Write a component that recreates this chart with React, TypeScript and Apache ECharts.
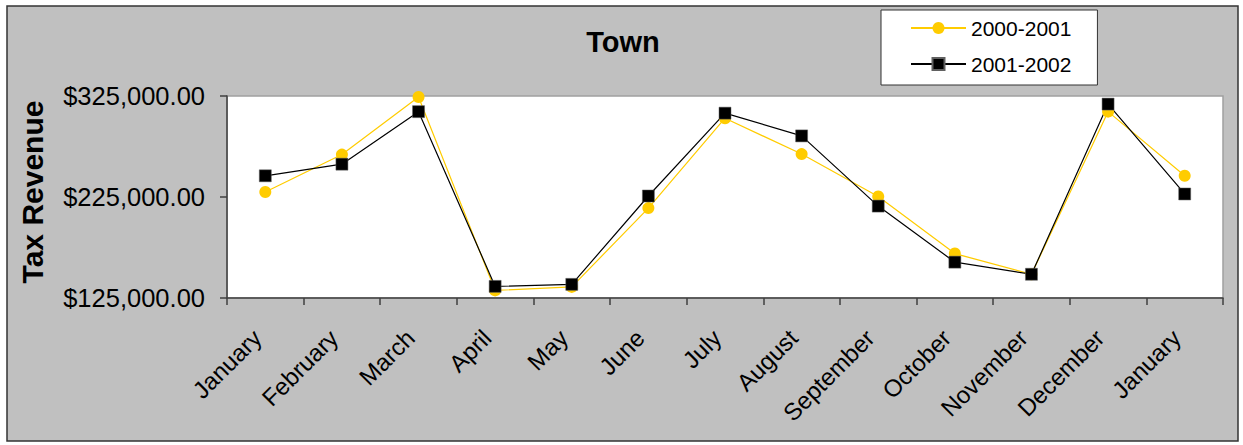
import React, { useEffect, useRef } from "react";
import * as echarts from "echarts";

const months = [
  "January", "February", "March", "April", "May", "June", "July",
  "August", "September", "October", "November", "December", "January",
];
const series2000 = [230000, 267000, 324000, 132500, 136000, 214000, 303000, 267500, 225500, 169000, 148500, 309500, 246000];
const series2001 = [246000, 257500, 309500, 136500, 138500, 226000, 308000, 285500, 216000, 160500, 148500, 317000, 228000];
const seriesNames = ["2000-2001", "2001-2002"];
const yTicks = [125000, 225000, 325000];

const FONT = "'Liberation Sans', Arial, sans-serif";

function fmtMoney(v: number): string {
  return "$" + v.toLocaleString("en-US", { minimumFractionDigits: 2, maximumFractionDigits: 2 });
}

export default function App() {
  const ref = useRef<HTMLDivElement>(null);
  useEffect(() => {
    if (!ref.current) return;
    const chart = echarts.init(ref.current, null, { renderer: "svg" });
    chart.setOption({
      animation: false,
      backgroundColor: "#ffffff",
      textStyle: { fontFamily: FONT },
      graphic: [
        {
          type: "rect",
          z: -10,
          shape: { x: 7, y: 6, width: 1231, height: 435 },
          style: { fill: "#c0c0c0", stroke: "#333333", lineWidth: 1.5 },
        },
      ],
      title: {
        text: "Town",
        left: 618,
        textAlign: "center",
        top: 22,
        textStyle: { fontFamily: FONT, fontSize: 29, fontWeight: "bold", color: "#000" },
      },
      legend: {
        orient: "vertical",
        left: 881,
        top: 10,
        padding: [7, 26, 10, 29],
        backgroundColor: "#ffffff",
        borderColor: "#333333",
        borderWidth: 1,
        itemWidth: 55,
        itemHeight: 15,
        itemGap: 14,
        textStyle: { fontFamily: FONT, fontSize: 21, color: "#000", lineHeight: 22 },
        data: seriesNames,
      },
      grid: {
        left: 227,
        right: 20,
        top: 96,
        bottom: 147,
        show: true,
        backgroundColor: "#ffffff",
        borderColor: "#a0a0a0",
        borderWidth: 1.5,
        outerBoundsMode: "none",
      },
      xAxis: {
        type: "category",
        data: months,
        boundaryGap: true,
        axisLine: { lineStyle: { color: "#404040", width: 1.5 } },
        axisTick: { show: true, length: 7, lineStyle: { color: "#404040", width: 1.5 } },
        axisLabel: {
          rotate: 45,
          interval: 0,
          margin: 44,
          verticalAlign: "bottom",
          lineHeight: 23,
          fontFamily: FONT,
          fontSize: 24,
          color: "#000",
        },
      },
      yAxis: {
        type: "value",
        min: 125000,
        max: 325000,
        name: "Tax Revenue",
        nameLocation: "middle",
        nameRotate: 90,
        nameGap: 180,
        nameTextStyle: {
          fontFamily: FONT,
          fontSize: 30,
          fontWeight: "bold",
          color: "#000",
          padding: [0, 0, 0, 10],
        },
        splitLine: { show: false },
        axisLine: { show: true, lineStyle: { color: "#404040", width: 1.5 } },
        axisTick: { show: true, length: 7, customValues: yTicks, lineStyle: { color: "#404040", width: 1.5 } },
        axisLabel: {
          customValues: yTicks,
          margin: 22,
          fontFamily: FONT,
          fontSize: 25.5,
          color: "#000",
          formatter: (v: number) => fmtMoney(v),
        },
      },
      series: [
        {
          name: seriesNames[0],
          type: "line",
          data: series2000,
          symbol: "circle",
          symbolSize: 12,
          color: "#ffcc00",
          lineStyle: { color: "#ffcc00", width: 1.2 },
          itemStyle: { color: "#ffcc00" },
        },
        {
          name: seriesNames[1],
          type: "line",
          data: series2001,
          symbol: "rect",
          symbolSize: 12,
          color: "#000000",
          lineStyle: { color: "#000000", width: 1.2 },
          itemStyle: { color: "#000000", borderColor: "#606060", borderWidth: 0.5 },
        },
      ],
    });
    return () => chart.dispose();
  }, []);
  return (
    <div
      ref={ref}
      style={{ position: "absolute", left: 0, top: 0, width: 1243, height: 445 }}
    />
  );
}
